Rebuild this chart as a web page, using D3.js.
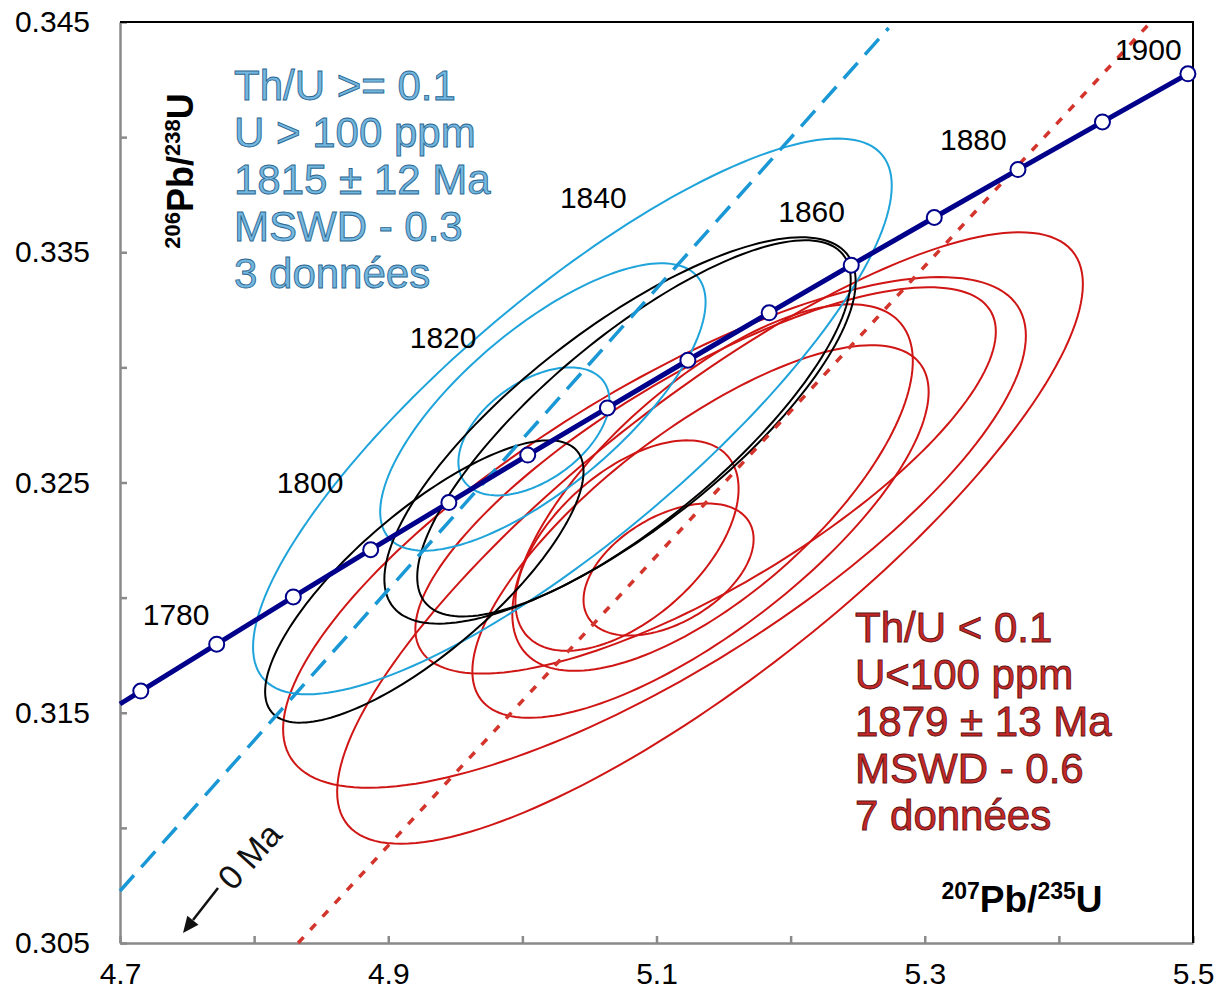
<!DOCTYPE html>
<head>
	<meta charset="utf-8" />
	<style>
		body {
			margin: 0;
			background-color: #fff;
			overflow: hidden;
		}
		text {
			font-family: 'Liberation Sans', Arial, sans-serif;
		}
	</style>
</head>

<body>
	<div id="chart-area"></div>

	<script src="https://cdnjs.cloudflare.com/ajax/libs/d3/7.8.5/d3.min.js"></script>

	<script>
		// concordia points (207Pb/235U, 206Pb/238U), one every 10 Ma
		const concordiaAges = [1770, 1780, 1790, 1800, 1810, 1820, 1830, 1840, 1850, 1860, 1870, 1880, 1890, 1900];
		const concordiaX = [4.7155, 4.7721, 4.8292, 4.8869, 4.9452, 5.004, 5.0634, 5.1234, 5.184, 5.2452, 5.3071, 5.3695, 5.4325, 5.4962];
		const concordiaY = [0.31594, 0.31798, 0.32003, 0.32208, 0.32413, 0.32619, 0.32824, 0.33031, 0.33237, 0.33444, 0.33651, 0.33859, 0.34066, 0.34275];
		// where the curve leaves the left axis
		const concordiaStart = [4.7, 0.31538];

		const ageLabels = [1780, 1800, 1820, 1840, 1860, 1880, 1900];

		// error ellipses: [x, y, sigma x, sigma y, rho]
		const blueEllipses = [
			[5.0373, 0.32787, 0.2381, 0.01207, 0.83],
			[5.0153, 0.32828, 0.1213, 0.00624, 0.73],
			[5.0086, 0.32722, 0.0563, 0.00278, 0.48],
		];
		const blackEllipses = [
			[5.0728, 0.32726, 0.1757, 0.00839, 0.77],
			[5.0832, 0.32735, 0.1616, 0.00817, 0.79],
			[4.9269, 0.3207, 0.1187, 0.00613, 0.78],
		];
		const redEllipses = [
			[5.1399, 0.32259, 0.278, 0.01328, 0.83],
			[5.0985, 0.32283, 0.2769, 0.01109, 0.77],
			[5.1366, 0.32509, 0.2164, 0.00839, 0.77],
			[5.1418, 0.32478, 0.1493, 0.00796, 0.69],
			[5.1328, 0.32287, 0.1701, 0.00809, 0.75],
			[5.078, 0.32226, 0.0832, 0.00457, 0.54],
			[5.109, 0.32122, 0.0634, 0.00287, 0.46],
		];

		// discordia lines, two end points each
		const blueDiscordia = [[4.7, 0.30726], [5.2731, 0.34474]];
		const redDiscordia = [[4.8328, 0.305], [5.4672, 0.34491]];

		const blueText = ['Th/U >= 0.1', 'U > 100 ppm', '1815 \u00b1 12 Ma', 'MSWD - 0.3', '3 donn\u00e9es'];
		const redText = ['Th/U < 0.1', 'U<100 ppm', '1879 \u00b1 13 Ma', 'MSWD - 0.6', '7 donn\u00e9es'];

		const xTicks = [4.7, 4.8, 4.9, 5.0, 5.1, 5.2, 5.3, 5.4, 5.5];
		const xLabels = [4.7, 4.9, 5.1, 5.3, 5.5];
		const yTicks = [0.305, 0.31, 0.315, 0.32, 0.325, 0.33, 0.335, 0.34, 0.345];
		const yLabels = [0.305, 0.315, 0.325, 0.335, 0.345];

		const width = 1225, height = 1002;
		const margins = { top: 22, right: 32, bottom: 59, left: 120 };

		const x = d3.scaleLinear().domain([4.7, 5.5]).range([margins.left, width - margins.right]);
		const y = d3.scaleLinear().domain([0.305, 0.345]).range([height - margins.bottom, margins.top]);

		const svg = d3.select('#chart-area')
			.append('svg')
			.attr('width', width)
			.attr('height', height);

		const navy = '#00008b';
		const cyan = '#1ea3da';
		const red = '#d01515';

		// axes
		const xAxis = svg.append('g')
			.attr('transform', `translate(0,${y(0.305)})`)
			.call(d3.axisBottom(x)
				.tickValues(xTicks)
				.tickSizeInner(-7)
				.tickSizeOuter(0)
				.tickPadding(20)
				.tickFormat(d => xLabels.some(v => Math.abs(v - d) < 1e-9) ? d3.format('.1f')(d) : ''));

		const yAxis = svg.append('g')
			.attr('transform', `translate(${x(4.7)},0)`)
			.call(d3.axisLeft(y)
				.tickValues(yTicks)
				.tickSizeInner(-7)
				.tickSizeOuter(0)
				.tickPadding(30)
				.tickFormat(d => yLabels.some(v => Math.abs(v - d) < 1e-9) ? d3.format('.3f')(d) : ''));

		[xAxis, yAxis].forEach(g => {
			g.select('.domain').attr('stroke', '#8a8a8a').attr('stroke-width', 2.5);
			g.selectAll('.tick line').attr('stroke', '#8a8a8a').attr('stroke-width', 2.5);
			g.selectAll('.tick text')
				.attr('font-size', 30)
				.attr('font-family', "'Liberation Sans', Arial, sans-serif")
				.attr('fill', '#000');
		});

		// top and right frame
		svg.append('path')
			.attr('d', `M${x(4.7)},${y(0.345)}H${x(5.5)}V${y(0.305)}`)
			.attr('fill', 'none')
			.attr('stroke', '#000')
			.attr('stroke-width', 2);

		const plot = svg.append('g');

		const ellipse = d3.line().curve(d3.curveLinearClosed);

		function ellipsePoints([cx, cy, sx, sy, rho]) {
			return d3.range(0, 360, 2).map(deg => {
				const t = deg * Math.PI / 180;
				return [
					x(cx + sx * Math.cos(t)),
					y(cy + sy * (rho * Math.cos(t) + Math.sqrt(1 - rho * rho) * Math.sin(t))),
				];
			});
		}

		function drawEllipses(data, color) {
			plot.append('g')
				.selectAll('path')
				.data(data)
				.join('path')
				.attr('d', d => ellipse(ellipsePoints(d)))
				.attr('fill', 'none')
				.attr('stroke', color)
				.attr('stroke-width', 2);
		}

		drawEllipses(redEllipses, red);
		drawEllipses(blueEllipses, cyan);
		drawEllipses(blackEllipses, '#000');

		// discordias
		const segment = d3.line().x(d => x(d[0])).y(d => y(d[1]));

		plot.append('path')
			.attr('d', segment(blueDiscordia))
			.attr('stroke', '#1a98d5')
			.attr('stroke-width', 3.5)
			.attr('stroke-dasharray', '21 11')
			.attr('fill', 'none');

		plot.append('path')
			.attr('d', segment(redDiscordia))
			.attr('stroke', '#d3342c')
			.attr('stroke-width', 3.5)
			.attr('stroke-dasharray', '8 10')
			.attr('fill', 'none');

		// concordia
		const concordia = concordiaAges.map((a, i) => ({ age: a, x: concordiaX[i], y: concordiaY[i] }));

		plot.append('path')
			.attr('d', segment([concordiaStart].concat(concordia.map(d => [d.x, d.y]))))
			.attr('stroke', navy)
			.attr('stroke-width', 5)
			.attr('fill', 'none');

		plot.selectAll('circle')
			.data(concordia)
			.join('circle')
			.attr('cx', d => x(d.x))
			.attr('cy', d => y(d.y))
			.attr('r', 7.5)
			.attr('fill', '#fff')
			.attr('stroke', navy)
			.attr('stroke-width', 2);

		// age labels, nudged off their points
		const labelOffset = {
			1780: [-74, -19], 1800: [-94, -57], 1820: [-118, -107], 1840: [-128, -152],
			1860: [-73, -43], 1880: [-78, -20], 1900: [-73, -14],
		};
		plot.selectAll('.age')
			.data(concordia.filter(d => ageLabels.includes(d.age)))
			.join('text')
			.attr('class', 'age')
			.attr('x', d => x(d.x) + labelOffset[d.age][0])
			.attr('y', d => y(d.y) + labelOffset[d.age][1])
			.attr('font-size', 30)
			.attr('fill', '#000')
			.text(d => d.age);

		// axis titles
		const yTitle = svg.append('text')
			.attr('transform', 'translate(193,171) rotate(-90)')
			.attr('text-anchor', 'middle')
			.attr('font-weight', 'bold')
			.attr('font-size', 36);
		yTitle.append('tspan').attr('font-size', 22).attr('dy', -13).text('206');
		yTitle.append('tspan').attr('dy', 13).text('Pb/');
		yTitle.append('tspan').attr('font-size', 22).attr('dy', -13).text('238');
		yTitle.append('tspan').attr('dy', 13).text('U');

		const xTitle = svg.append('text')
			.attr('x', 1022)
			.attr('y', 912)
			.attr('text-anchor', 'middle')
			.attr('font-weight', 'bold')
			.attr('font-size', 37);
		xTitle.append('tspan').attr('font-size', 23).attr('dy', -13).text('207');
		xTitle.append('tspan').attr('dy', 13).text('Pb/');
		xTitle.append('tspan').attr('font-size', 23).attr('dy', -13).text('235');
		xTitle.append('tspan').attr('dy', 13).text('U');

		// group summaries
		function textBlock(lines, x0, y0, fill, outline) {
			svg.append('g')
				.selectAll('text')
				.data(lines)
				.join('text')
				.attr('x', x0)
				.attr('y', (d, i) => y0 + i * 47)
				.attr('font-size', 42)
				.attr('fill', fill)
				.attr('stroke', outline)
				.attr('stroke-width', 0.9)
				.text(d => d);
		}
		textBlock(blueText, 234, 100, '#72b7df', '#2c6690');
		textBlock(redText, 855, 642, '#c62828', '#5e1414');

		// 0 Ma arrow
		svg.append('line')
			.attr('x1', 218).attr('y1', 888)
			.attr('x2', 193).attr('y2', 920)
			.attr('stroke', '#111')
			.attr('stroke-width', 2.5);
		svg.append('path')
			.attr('d', 'M183,933L198.5,924.7L187.3,915.8Z')
			.attr('fill', '#111');

		svg.append('text')
			.attr('transform', 'translate(233,892) rotate(-48)')
			.attr('font-size', 34)
			.attr('fill', '#111')
			.text('0 Ma');
	</script>
</body>
